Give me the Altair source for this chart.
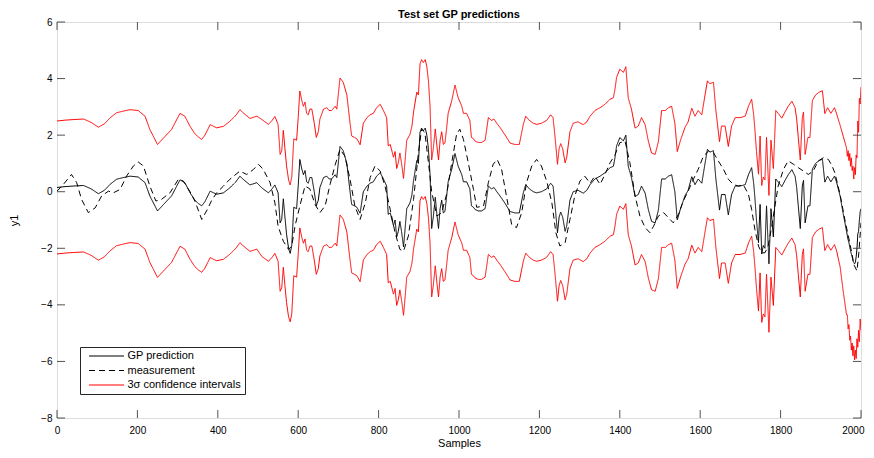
import altair as alt
import pandas as pd

# ---------------- data ----------------
x_ticks = [0, 200, 400, 600, 800, 1000, 1200, 1400, 1600, 1800, 2000]
y_ticks = [-8, -6, -4, -2, 0, 2, 4, 6]

series_names = ["GP prediction", "measurement", "3\u03c3 confidence intervals"]

# GP prediction (sample index, value)
pred_s = [
    0, 20, 40, 66, 85, 103, 118, 132, 148, 165,
    182, 202, 219, 231, 250, 265, 285, 296, 306, 318,
    331, 343, 352, 360, 368, 381, 397, 414, 430, 445,
    455, 463, 480, 497,
    509, 526, 535, 542, 550, 555, 559, 563, 567, 571,
    576, 580, 584, 589, 596, 600, 604, 609, 613, 617,
    621, 625, 629, 634, 640, 645, 650, 654, 663, 671,
    677, 683, 692, 696, 704, 712, 721, 729, 733, 740,
    746, 754, 762, 771, 779, 787, 795, 804, 812, 820,
    824, 829, 837, 841, 845, 849, 853, 857, 862, 866,
    870, 878, 883, 887, 895, 899, 903, 907, 911, 916,
    920, 924, 928, 932, 936, 941, 945, 949, 953, 957,
    961, 965, 969, 973, 982, 990, 998, 1007, 1011, 1019,
    1027, 1031, 1036, 1040, 1048, 1056, 1065, 1073, 1081, 1087,
    1094, 1102, 1114, 1127, 1139, 1150, 1160, 1166, 1175, 1185,
    1193, 1205, 1218, 1228, 1234, 1239, 1245, 1249, 1253, 1258,
    1264, 1268, 1276, 1284, 1296, 1309, 1318, 1326, 1338, 1351,
    1363, 1376, 1384, 1388, 1392, 1400, 1405, 1409, 1415, 1421,
    1429, 1438, 1446, 1454, 1463, 1471, 1479, 1488, 1496, 1504,
    1513, 1521, 1529, 1537, 1543, 1551, 1562, 1570, 1579, 1587,
    1595, 1604, 1612, 1618, 1624, 1633, 1639, 1648, 1653, 1662,
    1670, 1678, 1687, 1699, 1712, 1720, 1728, 1733, 1736, 1740,
    1745, 1749, 1753, 1757, 1761, 1765, 1771, 1776, 1782, 1788,
    1794, 1803, 1811, 1819, 1828, 1836, 1840, 1844, 1849, 1854,
    1857, 1861, 1868, 1873, 1879, 1887, 1896, 1904, 1910, 1917,
    1925, 1934, 1939,
    1948, 1956, 1964, 1966, 1968, 1970, 1972, 1974, 1976, 1978,
    1980, 1982, 1984, 1986, 1988, 1990, 1992, 1994, 1996, 1998,
    2000,
]
pred_v = [
    0.15, 0.18, 0.2, 0.22, 0.1, -0.07, 0.05, 0.26, 0.44, 0.5,
    0.55, 0.52, 0.32, -0.15, -0.68, -0.45, -0.15, 0.15, 0.42, 0.32,
    -0.04, -0.3, -0.42, -0.5, -0.35, 0.02, -0.09, -0.04, 0.14, 0.35,
    0.55, 0.44, 0.24, 0.32,
    0.14, -0.04, 0.1, 0.24, -0.04, -1.1, -0.98, -0.25, -0.9, -1.5,
    -2.0, -2.18, -1.9, -0.55, -0.6, 0.2, 1.14, 0.8, 0.6, 0.75,
    0.35, 0.3, 0.5, 0.5, 0.0, -0.5, -0.3, 0.15, 0.5, 0.55,
    0.45, 0.45, 0.6, 0.5, 1.6, 1.45, 1.0, 0.0, -0.45, -0.5,
    -0.55, -0.76, 0.0, 0.2, 0.3, 0.35, 0.55, 0.67, 0.45, 0.2,
    -0.8, -0.75, -1.2, -1.0, -1.6, -1.4, -1.05, -1.4, -1.95, -1.3,
    -0.6, -0.4, -0.1, 0.4, 1.1, 1.0, 2.1, 2.25, 2.15, 2.25,
    2.0, 1.5, 0.6, -1.3, -0.9, -0.2, -0.8, -1.3, -0.6, -0.3,
    -0.75, -0.7, -0.2, 0.35, 0.8, 1.35, 0.9, 0.6, 0.35, 0.35,
    0.1, -0.5, -0.55, -0.63, -0.68, -0.68, -0.6, 0.2, 0.1, 0.15,
    0.0, -0.15, -0.4, -0.7, -0.75, -0.75, -0.04, 0.25, 0.1, 0.0,
    -0.04, 0.0, 0.1, 0.3, 0.2, -0.5, -1.45, -0.9, -0.72, -0.9,
    -1.4, -1.2, -0.3, 0.0, 0.05, -0.05, 0.05, 0.25, 0.45, 0.55,
    0.67, 0.85, 0.9, 1.2, 1.62, 1.91, 1.85, 1.8, 2.0, 0.9,
    0.5, -0.17, -0.1, 0.2, -0.05, -0.63, -1.05, -1.1, -0.65, 0.45,
    0.45, 0.55, 0.6, 0.0, -1.0, -0.6, -0.15, 0.05, 0.53, 0.25,
    0.45, 0.3, 1.0, 1.5, 1.4, 1.45, 0.45, -0.65, -0.1, -0.1,
    -0.82, -0.1, 0.2, 0.2, 0.25, 0.6, 0.85, 0.3, -0.2, -1.0,
    -1.8, -0.45, -2.2, -1.9, -2.0, -0.5, -2.55, -0.6, -1.6, 0.45,
    0.35, 0.18, 0.4, 0.6, 0.78, 0.55, 0.15, -0.5, -1.3, 0.2,
    0.4, -1.1, -0.5, -0.5, 0.8, 1.0, 1.1, 1.15, 0.34, 0.55,
    0.35, 0.55, 0.35,
    -0.15, -0.8, -1.4, -1.55, -1.7, -1.8, -1.95, -2.1, -2.2, -2.3,
    -2.45, -2.5, -2.55, -2.5, -2.3, -2.0, -1.5, -1.4, -1.0, -0.7,
    -0.6,
]

# half width of the 3-sigma band
band_w_head = 2.35      # samples 0..497
band_w_mid = 2.42       # samples 509..1939
band_w_tail = [
    2.5, 2.75, 2.95, 2.8, 3.15, 2.9, 3.3, 3.0, 3.4, 3.05,
    3.35, 2.95, 3.4, 3.1, 3.6, 3.2, 4.0, 3.5, 4.3, 3.8,
    4.3,
]

# measurement (sample index, value)
meas_s = [
    0, 16, 36, 49, 61, 78, 95, 111, 128, 140,
    157, 173, 190, 202, 215, 231, 246, 260, 281, 302,
    314, 331, 343, 360, 372, 385, 397, 414, 430, 455,
    472, 489, 501, 513, 530, 542, 550, 563, 576, 584,
    592, 604, 617, 629, 642, 654, 667, 680, 692, 704,
    716, 729, 741, 754, 767, 779, 791, 804, 816, 829,
    841, 853, 862, 874, 887, 899, 907, 915, 924, 932,
    945, 957, 970, 982, 994, 1002, 1011, 1023, 1036, 1044,
    1061, 1073, 1085, 1095, 1106, 1118, 1131, 1143, 1156, 1168,
    1181, 1193, 1205, 1218, 1231, 1241, 1251, 1264, 1276, 1288,
    1301, 1313, 1326, 1338, 1351, 1363, 1376, 1388, 1400, 1413,
    1425, 1438, 1450, 1463, 1475, 1484, 1496, 1509, 1521, 1533,
    1546, 1558, 1570, 1583, 1595, 1608, 1621, 1633, 1645, 1658,
    1670, 1682, 1695, 1707, 1720, 1728, 1736, 1745, 1753, 1761,
    1769, 1778, 1786, 1794, 1807, 1819, 1832, 1844, 1857, 1869,
    1881, 1894, 1906, 1919, 1928, 1935, 1948, 1960, 1972, 1983,
    1990, 1995, 2000,
]
meas_v = [
    0.02, 0.26, 0.61, 0.32, -0.27, -0.74, -0.57, -0.15, 0.02, -0.04,
    0.08, 0.55, 0.91, 1.05, 0.91, 0.2, -0.33, -0.27, -0.04, 0.44,
    0.38, 0.0, -0.33, -0.98, -0.68, -0.3, -0.04, 0.2, 0.44, 0.73,
    0.61, 0.79, 0.97, 0.79, 0.32, -0.39, -1.22, -1.75, -2.04, -1.92,
    -1.22, -0.51, 0.2, 0.1, -0.45, -0.74, -0.5, 0.3, 0.95, 1.5,
    1.26, 0.44, -0.51, -0.98, -0.39, 0.5, 0.91, 0.73, 0.2, -0.63,
    -1.45, -2.04, -2.1, -1.57, -0.27, 1.38, 2.21, 2.1, 1.03, 0.0,
    -0.86, -0.74, -0.04, 1.03, 2.03, 2.21, 1.85, 1.03, 0.08, -0.55,
    -0.51, 0.32, 0.97, 1.14, 0.79, -0.15, -1.16, -1.27, -0.74, 0.32,
    0.91, 1.14, 0.91, 0.38, -0.39, -1.45, -1.92, -1.8, -0.98, -0.15,
    0.38, 0.55, 0.3, 0.55, 0.26, 0.61, 1.03, 1.3, 1.73, 1.79,
    1.03, -0.15, -0.86, -1.27, -1.45, -1.22, -0.86, -0.74, -0.92, -1.1,
    -0.8, -0.33, 0.02, 0.44, 0.79, 1.26, 1.44, 1.38, 1.09, 0.79,
    0.44, 0.26, 0.2, 0.25, -0.09, -0.63, -1.33, -1.92, -2.16, -2.16,
    -1.92, -1.22, -0.5, 0.2, 0.79, 1.09, 0.97, 0.85, 0.73, 0.61,
    0.73, 1.09, 1.2, 1.14, 0.91, 0.67, -0.1, -1.0, -1.8, -2.6,
    -2.8, -2.1, -1.1,
]

# ---------------- tables ----------------
n_head = sum(1 for s in pred_s if s <= 500)
n_mid = sum(1 for s in pred_s if 500 < s <= 1940)
band_w = [band_w_head] * n_head + [band_w_mid] * n_mid + band_w_tail
assert len(band_w) == len(pred_s) == len(pred_v)
assert len(meas_s) == len(meas_v)

pred_df = pd.DataFrame({"s": pred_s, "v": pred_v, "series": series_names[0], "line": "pred"})
meas_df = pd.DataFrame({"s": meas_s, "v": meas_v, "series": series_names[1], "line": "meas"})
upper_df = pd.DataFrame({"s": pred_s, "v": [p + w for p, w in zip(pred_v, band_w)],
                         "series": series_names[2], "line": "upper"})
lower_df = pd.DataFrame({"s": pred_s, "v": [p - w for p, w in zip(pred_v, band_w)],
                         "series": series_names[2], "line": "lower"})
band_df = pd.concat([upper_df, lower_df], ignore_index=True)

FONT = "Liberation Sans"
AX = "#262626"

x_enc = alt.X("s:Q", scale=alt.Scale(domain=[0, 2000], nice=False, zero=False),
              axis=alt.Axis(values=x_ticks, title="Samples", tickSize=0, domain=False, grid=False,
                            labelPadding=7, titlePadding=2, format="d",
                            titleFontWeight="normal",
                            labelAlign={"condition": {"test": "datum.value == 2000", "value": "right"},
                                        "value": "center"},
                            labelOffset={"condition": {"test": "datum.value == 2000", "value": 3},
                                         "value": 0}))
y_enc = alt.Y("v:Q", scale=alt.Scale(domain=[-8, 6], nice=False, zero=False),
              axis=alt.Axis(values=y_ticks, title="y1", tickSize=0, domain=False, grid=False,
                            labelPadding=5, titlePadding=21, format="d",
                            titleFontWeight="normal"))

legend = alt.Legend(title=None, orient="none", legendX=23, legendY=325, direction="vertical",
                    symbolType="M0,0H10", symbolSize=49, symbolStrokeWidth=1.1,
                    labelFont=FONT, labelFontSize=11, labelColor="#000000", labelOffset=33,
                    strokeColor=AX, fillColor="#ffffff", padding=3.5, rowPadding=2.5)

color_enc = alt.Color("series:N", scale=alt.Scale(domain=series_names,
                                                  range=["#000000", "#000000", "#ff0000"]),
                      legend=legend)
dash_enc = alt.StrokeDash("series:N", scale=alt.Scale(domain=series_names,
                                                      range=[[1, 0], [6, 4], [1, 0]]),
                          legend=legend)


def line_layer(df):
    return alt.Chart(df).mark_line(strokeWidth=1, clip=True).encode(
        x=x_enc, y=y_enc, color=color_enc, strokeDash=dash_enc, detail="line:N")


xt = pd.DataFrame({"s": x_ticks})
yt = pd.DataFrame({"v": y_ticks})
tick_bottom = alt.Chart(xt).mark_rule(color=AX, strokeWidth=0.8).encode(
    x=x_enc, y=alt.datum(-8), y2=alt.datum(-7.72))
tick_top = alt.Chart(xt).mark_rule(color=AX, strokeWidth=0.8).encode(
    x=x_enc, y=alt.datum(6), y2=alt.datum(5.72))
tick_left = alt.Chart(yt).mark_rule(color=AX, strokeWidth=0.8).encode(
    y=y_enc, x=alt.datum(0), x2=alt.datum(20))
tick_right = alt.Chart(yt).mark_rule(color=AX, strokeWidth=0.8).encode(
    y=y_enc, x=alt.datum(1980), x2=alt.datum(2000))

chart = alt.layer(
    line_layer(band_df), line_layer(meas_df), line_layer(pred_df),
    tick_bottom, tick_top, tick_left, tick_right,
).properties(
    width=804, height=396,
    title=alt.TitleParams("Test set GP predictions", font=FONT, fontSize=11, fontWeight="bold",
                          color="#000000", anchor="middle", offset=-3),
    autosize=alt.AutoSizeParams(type="none"),
    padding={"left": 49, "top": 14, "right": 5, "bottom": 32},
).configure_view(
    stroke=AX, strokeWidth=1
).configure_axis(
    labelFont=FONT, labelFontSize=10, labelColor=AX, titleFont=FONT, titleFontSize=11,
    titleColor=AX, titleFontWeight="normal"
).configure(background="#ffffff")

chart.save("out.html", embed_options={"renderer": "svg", "actions": False})
